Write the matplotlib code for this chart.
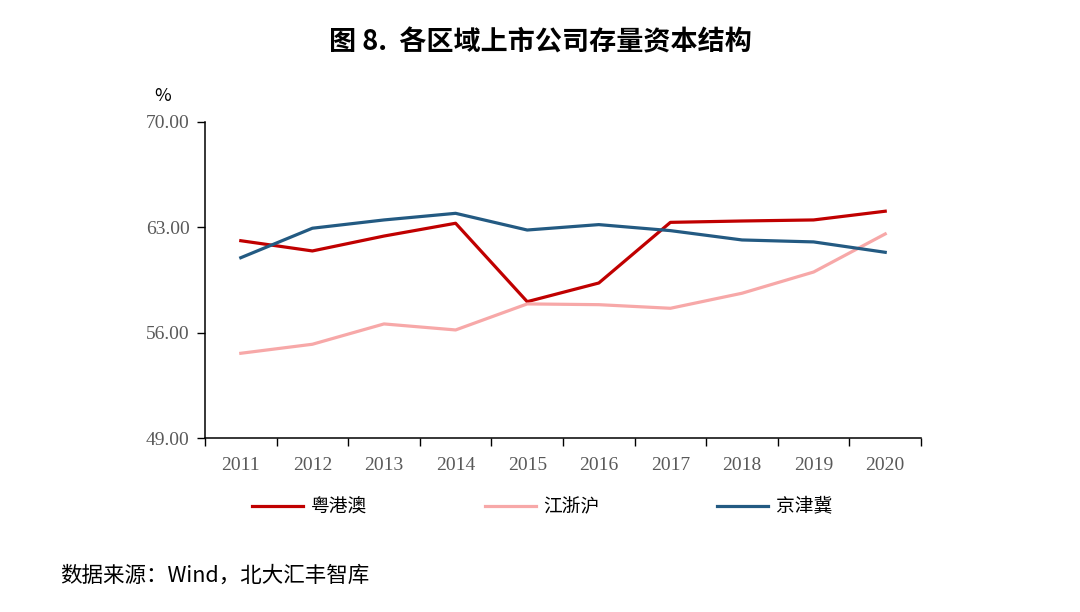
import matplotlib.pyplot as plt
import numpy as np

plt.rcParams['font.family'] = ['Noto Sans CJK SC', 'DejaVu Sans']

years = ['2011', '2012', '2013', '2014', '2015', '2016', '2017', '2018', '2019', '2020']
yue = [62.11, 61.43, 62.42, 63.27, 58.06, 59.30, 63.33, 63.42, 63.49, 64.07]
jiang = [54.63, 55.23, 56.58, 56.18, 57.91, 57.86, 57.62, 58.62, 60.03, 62.56]
jing = [60.98, 62.94, 63.49, 63.93, 62.82, 63.18, 62.78, 62.16, 62.03, 61.34]
yticks = [49, 56, 63, 70]

fig = plt.figure(figsize=(10.8, 6.12), dpi=100)
ax = fig.add_axes([0.1898, 0.2843, 0.663, 0.5164])

x = np.arange(len(years))
ax.plot(x, yue, color='#C00000', lw=2.3, label='粤港澳')
ax.plot(x, jiang, color='#F7A8A8', lw=2.3, label='江浙沪')
ax.plot(x, jing, color='#235A82', lw=2.3, label='京津冀')

ax.set_xlim(-0.5, len(years) - 0.5)
ax.set_ylim(49, 70)
ax.set_yticks(yticks)
ax.set_yticklabels([f'{v:.2f}' for v in yticks], family='Liberation Serif',
                   fontsize=14, color='#595959')
ax.set_xticks(x)
ax.set_xticklabels(years, family='Liberation Serif', fontsize=14, color='#595959')
ax.tick_params(axis='x', which='major', length=0, pad=14)
ax.set_xticks(np.arange(-0.5, len(years), 1), minor=True)
ax.tick_params(axis='x', which='minor', length=6, direction='out', width=1)
ax.tick_params(axis='y', length=6, direction='out', width=1, pad=5)

for s in ['top', 'right']:
    ax.spines[s].set_visible(False)
for s in ['left', 'bottom']:
    ax.spines[s].set_linewidth(1.1)

fig.text(0.5, 1 - 42 / 612, '图 8.  各区域上市公司存量资本结构', ha='center', va='center',
         fontsize=19.5, fontweight='bold')
fig.text(163 / 1080, 1 - 96 / 612, '%', ha='center', va='center', fontsize=13)

fig.legend(loc='center', bbox_to_anchor=(0.502, 1 - 507 / 612), ncol=3, frameon=False,
           fontsize=13.5, handlelength=2.7, columnspacing=6.3, handletextpad=0.4)

fig.text(60 / 1080, 1 - 576 / 612, '数据来源：Wind，北大汇丰智库', ha='left', va='center',
         fontsize=15.5)

plt.savefig('out.png', dpi=100)
